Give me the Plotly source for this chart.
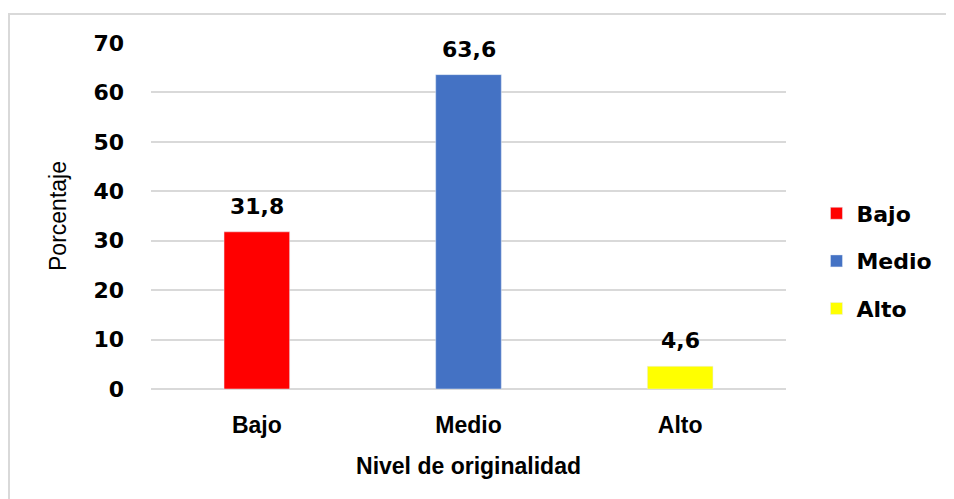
import plotly.graph_objects as go

categories = ['Bajo', 'Medio', 'Alto']
percentages = [31.8, 63.6, 4.6]
colors = ['#FF0000', '#4472C4', '#FFFF00']
y_ticks = [0, 10, 20, 30, 40, 50, 60, 70]

fig = go.Figure()
for cat, val, col in zip(categories, percentages, colors):
    fig.add_trace(
        go.Bar(
            x=[cat],
            y=[val],
            name=cat,
            legendgroup=cat,
            marker_color=col,
            width=0.31,
        )
    )

# data labels above bars
for cat, val in zip(categories, percentages):
    fig.add_annotation(
        x=cat, y=val, text=f'{val:.1f}'.replace('.', ','),
        showarrow=False, yanchor='bottom', yshift=11,
        font=dict(family='DejaVu Sans', size=22, color='black', weight='bold'),
    )

fig.update_layout(
    width=954,
    height=499,
    margin=dict(l=143, r=176, t=35, b=118),
    barmode='overlay',
    plot_bgcolor='white',
    paper_bgcolor='white',
    showlegend=True,
    legend=dict(
        x=1.048, y=0.37, xanchor='left', yanchor='middle',
        font=dict(family='DejaVu Sans', size=22, color='black', weight='bold'),
        traceorder='grouped', tracegroupgap=16,
    ),
    xaxis=dict(
        title=dict(text='Nivel de originalidad', standoff=20,
                   font=dict(family='Liberation Sans', size=23, color='black', weight='bold')),
        tickfont=dict(family='Liberation Sans', size=23, color='black', weight='bold'),
        showline=False, showgrid=False,
        ticklabelstandoff=20,
    ),
    yaxis=dict(
        title=dict(text='Porcentaje', standoff=20,
                   font=dict(family='Liberation Sans', size=23, color='black')),
        range=[0, 70],
        tickvals=y_ticks,
        tickfont=dict(family='DejaVu Sans', size=22, color='black', weight='bold'),
        showgrid=True, gridcolor='#d9d9d9', gridwidth=2,
        zeroline=True, zerolinecolor='#d9d9d9', zerolinewidth=2,
        ticklabelstandoff=26,
    ),
    shapes=[dict(type='rect', xref='paper', yref='paper',
                 x0=-0.2236, x1=1.4, y0=-0.5, y1=1.084,
                 line=dict(color='#d9d9d9', width=2), fillcolor='rgba(0,0,0,0)', layer='below')],
)

fig.write_html('out.html')
